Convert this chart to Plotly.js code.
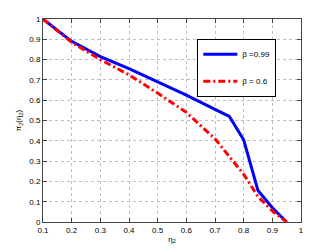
<!DOCTYPE html>
<html>
<head>
<meta charset="utf-8">
<script src="https://cdn.plot.ly/plotly-3.0.1.min.js"></script>
<style>html,body{margin:0;padding:0;background:#fff;}#chart{width:332px;height:250px;}</style>
</head>
<body>
<div id="chart"></div>
<script>
var eta = [0.1, 0.2, 0.3, 0.4, 0.5, 0.6, 0.7, 0.75, 0.8, 0.85, 0.9, 0.95];
var piBeta099 = [1.0, 0.89, 0.815, 0.755, 0.69, 0.625, 0.555, 0.52, 0.405, 0.155, 0.07, 0.0];
var etaRed = [0.1, 0.2, 0.3, 0.4, 0.5, 0.6, 0.7, 0.8, 0.85, 0.9, 0.95];
var piBeta06 = [1.0, 0.885, 0.8, 0.725, 0.635, 0.54, 0.41, 0.235, 0.125, 0.055, 0.0];
var xTicks = [0.1, 0.2, 0.3, 0.4, 0.5, 0.6, 0.7, 0.8, 0.9, 1];
var xTickText = ["0.1", "0.2", "0.3", "0.4", "0.5", "0.6", "0.7", "0.8", "0.9", "1"];
var yTicks = [0, 0.1, 0.2, 0.3, 0.4, 0.5, 0.6, 0.7, 0.8, 0.9, 1];
var yTickText = ["0", "0.1", "0.2", "0.3", "0.4", "0.5", "0.6", "0.7", "0.8", "0.9", "1"];

var traces = [
  {x: eta, y: piBeta099, mode: 'lines', name: 'β =0.99', legendgroup: 'a',
   line: {color: '#0000ff', width: 3}},
  {x: etaRed, y: piBeta06, mode: 'lines', name: 'β = 0.6', legendgroup: 'b',
   line: {color: '#ff0000', width: 3, dash: '7px,3px,2px,3px'}}
];
var axisCommon = {
  showline: true, mirror: 'ticks', linecolor: '#444', linewidth: 1,
  ticks: 'inside', ticklen: 4, tickcolor: '#444',
  showgrid: true, gridcolor: '#bfbfbf', griddash: 'dot', gridwidth: 1,
  zeroline: false, tickfont: {size: 8, color: '#000'}
};
var layout = {
  width: 332, height: 250,
  margin: {l: 43, r: 31, t: 19, b: 28},
  paper_bgcolor: '#fff', plot_bgcolor: '#fff',
  font: {family: 'Liberation Sans, Arial, sans-serif', size: 8, color: '#000'},
  showlegend: true,
  legend: {x: 0.598, y: 0.903, xanchor: 'left', yanchor: 'top',
    bgcolor: '#fff', bordercolor: '#000', borderwidth: 1,
    font: {size: 8}, tracegroupgap: 8, itemwidth: 34},
  xaxis: Object.assign({}, axisCommon, {range: [0.1, 1], tickvals: xTicks, ticktext: xTickText,
    title: {text: 'η<sub>2</sub>', font: {size: 8}, standoff: 2}}),
  yaxis: Object.assign({}, axisCommon, {range: [0, 1], tickvals: yTicks, ticktext: yTickText,
    title: {text: 'π<sub>2</sub>(η<sub>2</sub>)', font: {size: 8}, standoff: 6}})
};
Plotly.newPlot('chart', traces, layout, {displayModeBar: false, staticPlot: true});
</script>
</body>
</html>
